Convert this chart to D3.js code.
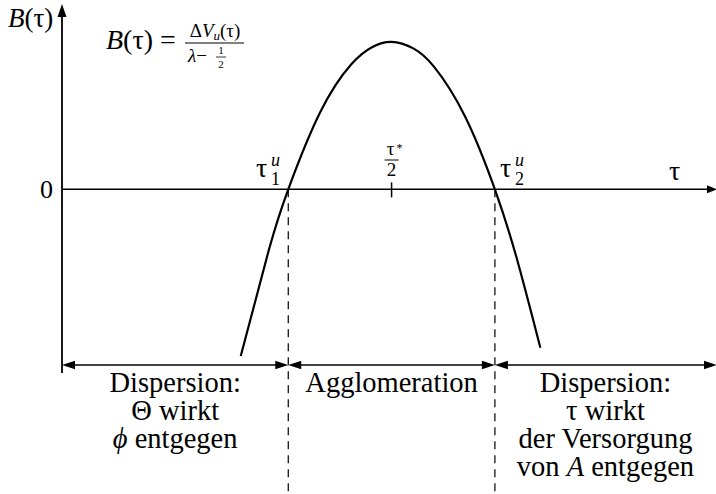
<!DOCTYPE html>
<html>
<head>
<meta charset="utf-8">
<script src="https://cdn.jsdelivr.net/npm/d3@7/dist/d3.min.js"></script>
<style>
  html, body { margin: 0; padding: 0; background: #fff; }
  svg text { font-family: "Liberation Serif", "Times New Roman", serif; fill: #000; }
</style>
</head>
<body>
<svg id="chart" width="716" height="494"></svg>
<script>
// Curve B(tau), sampled along its arc
const tauCurve = [1.73, 2.0, 2.19, 2.5, 2.8, 3.0, 3.19, 3.4, 3.6, 3.9, 4.19, 4.4, 4.63];
const bCurve   = [-1.13, -0.416, 0, 0.524, 0.848, 0.964, 1, 0.956, 0.832, 0.496, 0, -0.464, -1.074];

// Critical points on the tau axis: tau_1^u, tau*/2, tau_2^u
const markTau = [2.19, 3.19, 4.19];

// Regions along the tau axis and their descriptions
const regionBounds = [0, 2.19, 4.19, 6.33];
const regionLines = [
  ["Dispersion:", "Θ wirkt", "ϕ entgegen"],
  ["Agglomeration"],
  ["Dispersion:", "τ wirkt", "der Versorgung", "von A entgegen"]
];

const svg = d3.select("#chart");
svg.append("rect").attr("width", 716).attr("height", 494).attr("fill", "#fff");

const x = d3.scaleLinear().domain([0, 6.33]).range([62, 716]);
const y = d3.scaleLinear().domain([-1.245, 1.25]).range([373, 5]);

const y0 = y(0);
const arrowY = 365;
const FS = 28.5;

function head(xt, yt, dir, len, half) {
  // filled triangular arrow head; tip at (xt, yt), dir in {left,right,up}
  let pts;
  if (dir === "right") pts = [[xt, yt], [xt - len, yt - half], [xt - len, yt + half]];
  else if (dir === "left") pts = [[xt, yt], [xt + len, yt - half], [xt + len, yt + half]];
  else pts = [[xt, yt], [xt - half, yt + len], [xt + half, yt + len]];
  svg.append("path").attr("d", d3.line()(pts) + "Z").attr("fill", "#000");
}

// Vertical axis with arrow
const yAxis = d3.axisLeft(y).tickValues([0]).tickSize(0).tickPadding(9).tickFormat(d3.format("d"));
const yg = svg.append("g").attr("transform", `translate(${x(0)},0)`).call(yAxis);
yg.attr("font-family", null);
yg.select(".domain").attr("stroke", "#000").attr("stroke-width", 1.8).attr("d", `M0,${y.range()[0]}V${y.range()[1] + 8}`);
yg.selectAll(".tick text").attr("font-size", 26).attr("dy", "0.33em");
head(x(0), y.range()[1] - 1, "up", 13, 4.5);

// Horizontal axis (B = 0) with arrow
svg.append("line").attr("x1", x(0)).attr("x2", x.range()[1] - 8).attr("y1", y0).attr("y2", y0)
  .attr("stroke", "#000").attr("stroke-width", 1.5);
head(x.range()[1] + 1, y0, "right", 10, 4);

// Tick at tau*/2
svg.append("line").attr("x1", x(markTau[1])).attr("x2", x(markTau[1]))
  .attr("y1", y0 - 7).attr("y2", y0 + 8).attr("stroke", "#000").attr("stroke-width", 1.5);

// Dashed verticals at the roots
[markTau[0], markTau[2]].forEach(t => {
  svg.append("line").attr("x1", x(t)).attr("x2", x(t)).attr("y1", y0).attr("y2", 494)
    .attr("stroke", "#000").attr("stroke-width", 1.2).attr("stroke-dasharray", "8,6");
});

// Curve
svg.append("path")
  .datum(tauCurve.map((t, i) => [t, bCurve[i]]))
  .attr("d", d3.line().x(d => x(d[0])).y(d => y(d[1])).curve(d3.curveNatural))
  .attr("fill", "none").attr("stroke", "#000").attr("stroke-width", 2.2);

// Region arrows and labels
regionLines.forEach((lines, i) => {
  const xa = x(regionBounds[i]), xb = x(regionBounds[i + 1]);
  svg.append("line").attr("x1", xa + 8).attr("x2", xb - 8).attr("y1", arrowY).attr("y2", arrowY)
    .attr("stroke", "#000").attr("stroke-width", 1.4);
  head(xa, arrowY, "left", 13, 4.2);
  head(xb + (i === 2 ? 1 : 0), arrowY, "right", 13, 4.2);
  const cx = (xa + xb) / 2;
  lines.forEach((ln, j) => {
    const t = svg.append("text").attr("x", cx).attr("y", 392 + j * 28)
      .attr("text-anchor", "middle").attr("font-size", FS);
    if (ln.startsWith("von A")) {
      t.append("tspan").text("von ");
      t.append("tspan").attr("font-style", "italic").text("A");
      t.append("tspan").text(" entgegen");
    } else if (ln.startsWith("ϕ")) {
      t.append("tspan").attr("font-style", "italic").text("ϕ");
      t.append("tspan").text(" entgegen");
    } else {
      t.text(ln);
    }
  });
});

// Axis titles
const bt = svg.append("text").attr("x", 8).attr("y", 27).attr("font-size", 27);
bt.append("tspan").attr("font-style", "italic").text("B");
bt.append("tspan").text("(τ)");
svg.append("text").attr("x", 669).attr("y", 180).attr("font-size", 28).text("τ");

// Root labels tau_1^u, tau_2^u
[[markTau[0], "1", 256], [markTau[2], "2", 500]].forEach(([t, sub, lx]) => {
  svg.append("text").attr("x", lx).attr("y", 177).attr("font-size", 28).text("τ");
  svg.append("text").attr("x", lx + 15).attr("y", 185).attr("font-size", 18).text(sub);
  svg.append("text").attr("x", lx + 15).attr("y", 166).attr("font-size", 18).attr("font-style", "italic").text("u");
});

// tau*/2 label
const mx = x(markTau[1]);
svg.append("text").attr("x", mx - 1).attr("y", 155).attr("text-anchor", "middle").attr("font-size", 19).text("τ");
svg.append("text").attr("x", mx + 5).attr("y", 152).attr("font-size", 12).text("*");
svg.append("line").attr("x1", mx - 7).attr("x2", mx + 7).attr("y1", 160).attr("y2", 160).attr("stroke", "#000").attr("stroke-width", 1);
svg.append("text").attr("x", mx).attr("y", 176).attr("text-anchor", "middle").attr("font-size", 19).text("2");

// Formula B(tau) = dV_u(tau) / (lambda - 1/2)
const f = svg.append("text").attr("x", 106).attr("y", 49).attr("font-size", 28);
f.append("tspan").attr("font-style", "italic").text("B");
f.append("tspan").text("(τ) =");
const num = svg.append("text").attr("x", 215).attr("y", 37).attr("text-anchor", "middle").attr("font-size", 19);
num.append("tspan").text("Δ");
num.append("tspan").attr("font-style", "italic").text("V");
num.append("tspan").attr("font-style", "italic").attr("font-size", 13).attr("dy", 3).text("u");
num.append("tspan").attr("dy", -3).text("(τ)");
svg.append("line").attr("x1", 185).attr("x2", 244).attr("y1", 43).attr("y2", 43).attr("stroke", "#000").attr("stroke-width", 1);
const den = svg.append("text").attr("x", 188).attr("y", 62).attr("font-size", 19);
den.append("tspan").attr("font-style", "italic").text("λ");
den.append("tspan").text("−");
svg.append("text").attr("x", 221).attr("y", 54).attr("text-anchor", "middle").attr("font-size", 11).text("1");
svg.append("line").attr("x1", 216).attr("x2", 226).attr("y1", 57).attr("y2", 57).attr("stroke", "#000").attr("stroke-width", 0.8);
svg.append("text").attr("x", 221).attr("y", 68).attr("text-anchor", "middle").attr("font-size", 11).text("2");
</script>
</body>
</html>
